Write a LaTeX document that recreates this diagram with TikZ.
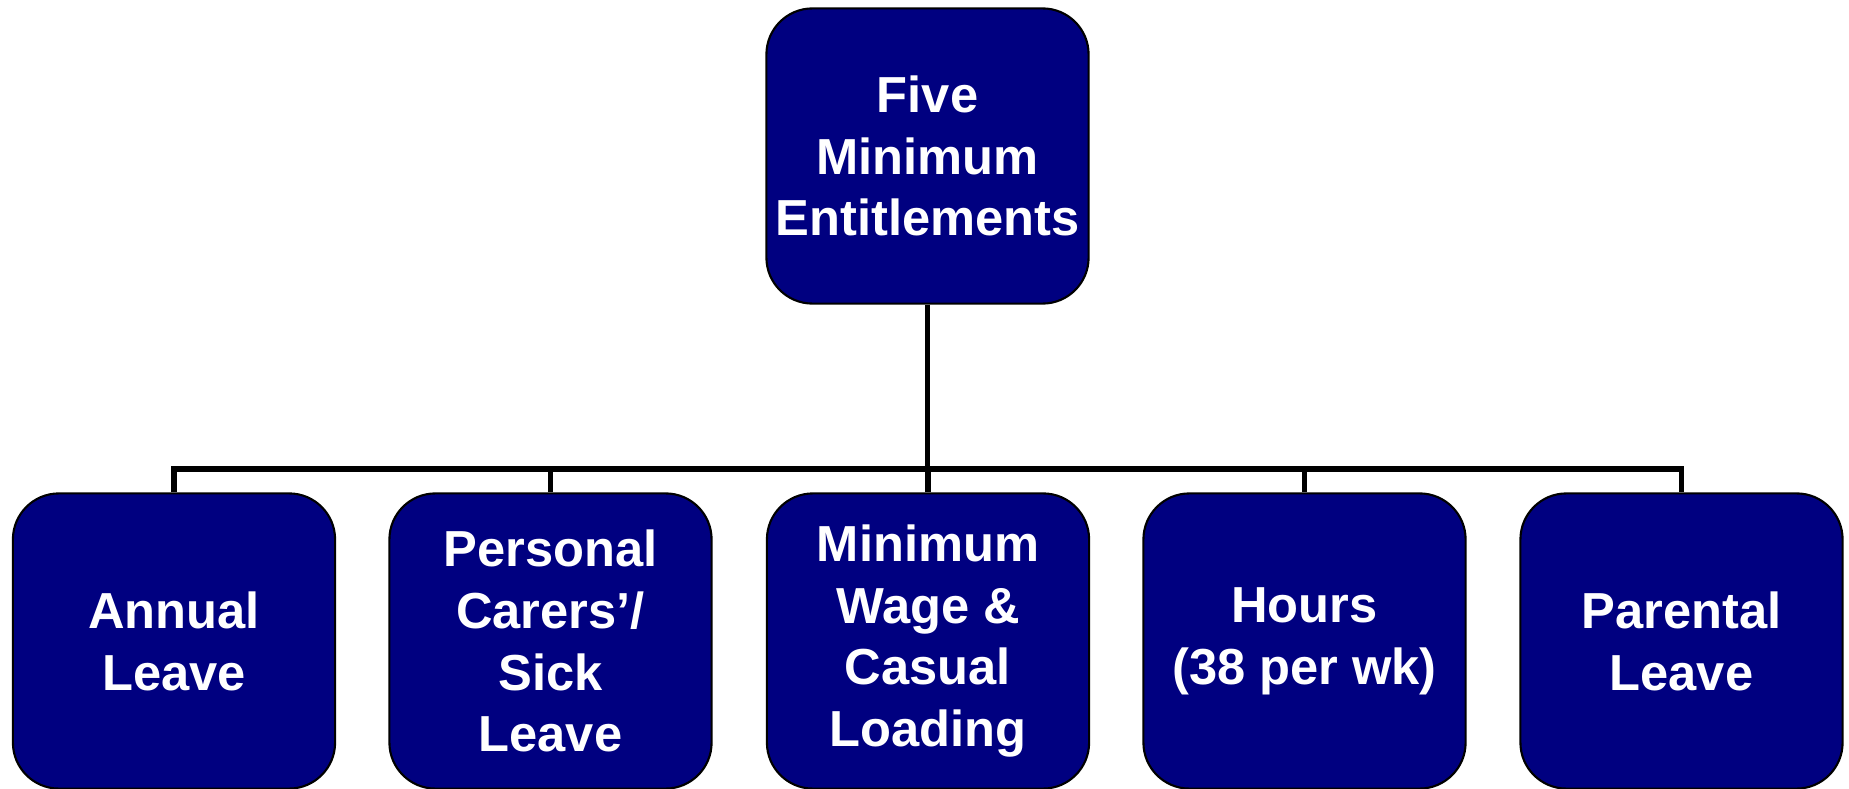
\documentclass[tikz,border=0pt]{standalone}
\usepackage{fontspec}
\setmainfont{Liberation Sans}
\usepackage{tikz}

\definecolor{boxnavy}{RGB}{0,0,128}

\tikzset{
    entbox/.style={draw=black, line width=0.6pt, fill=boxnavy, rounded corners=0.46cm,
        minimum width=3.22cm, minimum height=2.95cm, inner xsep=1pt, align=center, text=white,
        font=\bfseries\fontsize{14.4}{17.6}\selectfont},
    link/.style={draw=black, line width=1.6pt, line join=miter}
}

\begin{document}
\begin{tikzpicture}[x=0.01cm, y=0.01cm]
    \useasboundingbox (0,0) rectangle (1849,-788);
    \node[entbox] (top) at (927.5,-156) {Five\\Minimum\\Entitlements};
    \node[entbox] (annual) at (174,-641) {Annual\\Leave};
    \node[entbox] (personal) at (550.5,-641) {Personal\\Carers’/\\Sick\\Leave};
    \node[entbox] (wage) at (928,-641) {Minimum\\Wage \&\\Casual\\Loading};
    \node[entbox] (hours) at (1304.5,-641) {Hours\\(38 per wk)};
    \node[entbox] (parental) at (1681.5,-641) {Parental\\Leave};
    \coordinate (bus) at (927.5,-469);
    \draw[link] (top.south) -- (top.south |- bus);
    \draw[link] (annual.north) -- (annual.north |- bus) -- (parental.north |- bus) -- (parental.north);
    \draw[link] (personal.north) -- (personal.north |- bus);
    \draw[link] (wage.north) -- (wage.north |- bus);
    \draw[link] (hours.north) -- (hours.north |- bus);
\end{tikzpicture}
\end{document}
